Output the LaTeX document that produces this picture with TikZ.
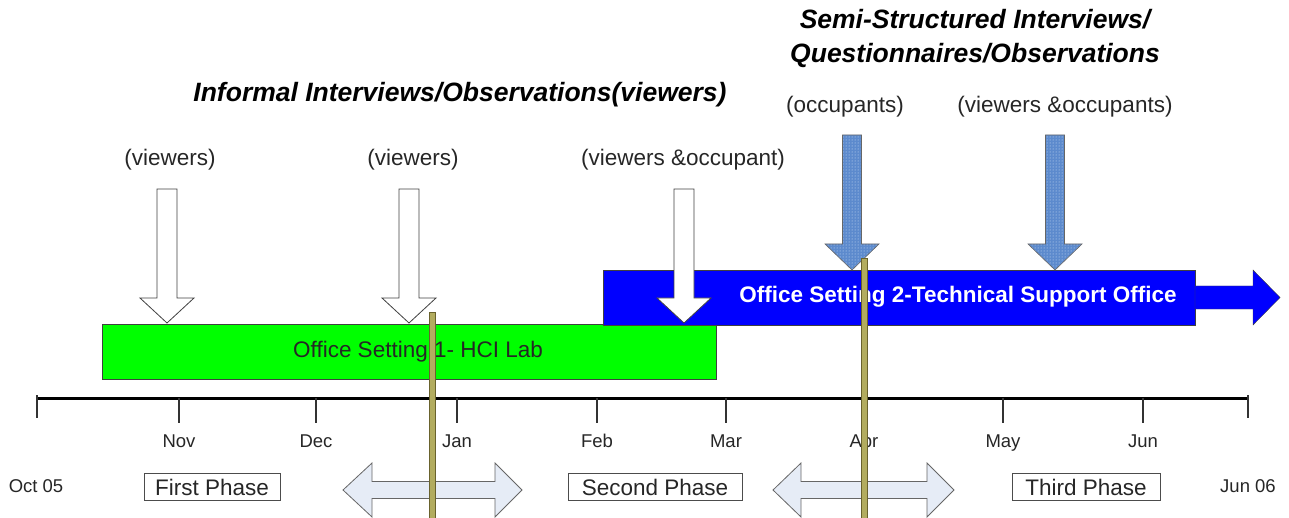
\documentclass[tikz,border=0pt]{standalone}
\usepackage{fontspec}
\setmainfont{Liberation Sans}
\usetikzlibrary{patterns}

\definecolor{settinggreen}{RGB}{0,255,0}
\definecolor{settingblue}{RGB}{0,0,255}
\definecolor{dotblue}{RGB}{92,138,205}
\definecolor{dotlight}{RGB}{215,230,250}
\definecolor{palegray}{RGB}{230,236,246}
\definecolor{olivebar}{RGB}{178,172,95}
\definecolor{olivedark}{RGB}{105,98,45}

\begin{document}
\begin{tikzpicture}[
    x=1pt, y=-1pt,
    every node/.style={font=\fontsize{22.5}{27}\selectfont, text=black!85},
    heading/.style={font=\fontsize{26.5}{34}\selectfont\bfseries\itshape, align=center, text=black},
    month/.style={font=\fontsize{18.5}{22}\selectfont, anchor=base},
    phase/.style={rectangle, draw=black!70, minimum width=#1, minimum height=27pt, inner sep=0pt},
    setting/.style={rectangle, draw=black!75, fill=#1, inner sep=0pt},
    whitearrow/.style={draw=black!75, fill=white, line width=0.8pt},
    dotarrow/.style={draw=black!60, preaction={fill=dotblue}, pattern=dots, pattern color=dotlight, line width=0.6pt},
    bothways/.style={draw=black!60, fill=palegray, line width=0.8pt},
    marker/.style={draw=olivedark, fill=olivebar, line width=0.5pt}
]
\useasboundingbox (0,0) rectangle (1289,518);

% time axis
\draw[line width=3pt] (37,398) -- (1248,398);
\draw[line width=1.2pt, black!80] (37,395) -- (37,418);
\draw[line width=1.2pt, black!80] (1248,395) -- (1248,418);
\foreach \x/\m in {179/Nov, 316/Dec, 457/Jan, 597/Feb, 726/Mar, 864/Apr, 1003/May, 1143/Jun} {
    \draw[line width=1.2pt, black!80] (\x,398) -- (\x,423);
    \node[month] (m-\m) at (\x,447) {\m};
}
\node[month] (start) at (36,492) {Oct 05};
\node[month] (end) at (1248,492) {Jun 06};

% office settings
\node[setting=settinggreen, minimum width=614pt, minimum height=55pt] (office1) at (409,351.5) {};
\node (office1text) at (418,352) {Office Setting 1- HCI Lab};
\node[setting=settingblue, minimum width=592pt, minimum height=55pt] (office2) at (899,297.5) {};
\draw[draw=black!75, fill=settingblue] (1195,286) -- (1253,286) -- (1253,270) -- (1280,297.5)
    -- (1253,325) -- (1253,309) -- (1195,309) -- cycle;
\node[text=white, font=\fontsize{22.5}{27}\selectfont\bfseries] (office2text) at (958,297) {Office Setting 2-Technical Support Office};

% informal interviews
\node[heading] (informal) at (460,95) {Informal Interviews/Observations(viewers)};
\node (v1) at (170,160) {(viewers)};
\node (v2) at (413,160) {(viewers)};
\node (v3) at (683,160) {(viewers \&occupant)};
\foreach \x in {167,409,684}
    \draw[whitearrow] (\x-10,189) -- (\x+10,189) -- (\x+10,298) -- (\x+27,298) -- (\x,323)
        -- (\x-27,298) -- (\x-10,298) -- cycle;

% semi-structured interviews
\node[heading] (semi) at (975,38) {Semi-Structured Interviews/\\Questionnaires/Observations};
\node (o1) at (845,107) {(occupants)};
\node (o2) at (1065,107) {(viewers \&occupants)};
\foreach \x in {852,1055}
    \draw[dotarrow] (\x-9.5,135) -- (\x+9.5,135) -- (\x+9.5,244) -- (\x+27,244) -- (\x,270)
        -- (\x-27,244) -- (\x-9.5,244) -- cycle;

% phases
\node[phase=136pt] (first) at (212,487) {First Phase};
\node[phase=174pt] (second) at (655,487) {Second Phase};
\node[phase=148pt] (third) at (1086,487) {Third Phase};
\draw[bothways] (343,490) -- (372,463) -- (372,481.5) -- (495,481.5) -- (495,463) -- (522,490)
    -- (495,517) -- (495,498.5) -- (372,498.5) -- (372,517) -- cycle;
\draw[bothways] (773,490) -- (801,463) -- (801,481.5) -- (927,481.5) -- (927,463) -- (954,490)
    -- (927,517) -- (927,498.5) -- (801,498.5) -- (801,517) -- cycle;

% phase boundaries
\draw[marker] (429,312) rectangle (435,519);
\draw[marker] (861,258) rectangle (867,519);

\end{tikzpicture}
\end{document}
